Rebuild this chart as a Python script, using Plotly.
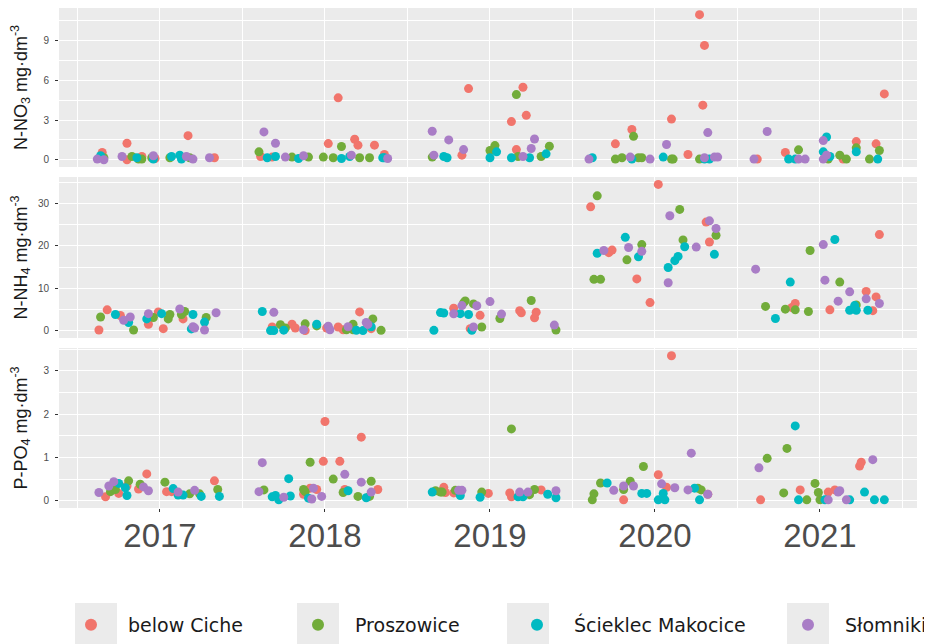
import plotly.graph_objects as go
from plotly.subplots import make_subplots

sites = ["below Ciche", "Proszowice", "Ścieklec Makocice", "Słomniki"]
site_colors = ["#F1756C", "#72AC3A", "#00BAC2", "#A97DC6"]
years = [2017, 2018, 2019, 2020, 2021]
year_labels = ["2017", "2018", "2019", "2020", "2021"]

# ---------------- N-NO3 ----------------
no3_ciche_x = [2016.65, 2016.80, 2016.80, 2016.89, 2016.97, 2017.17, 2017.33, 2017.61, 2017.68, 2018.02, 2018.08, 2018.18, 2018.20, 2018.30, 2018.36, 2018.83, 2018.87, 2019.13, 2019.16, 2019.20, 2019.22, 2019.76, 2019.86, 2020.10, 2020.20, 2020.27, 2020.30, 2020.29, 2020.62, 2020.79, 2021.14, 2021.22, 2021.34, 2021.39]
no3_ciche_y = [0.55, 1.25, 0.0, 0.25, 0.1, 1.82, 0.15, 0.25, 0.2, 1.22, 4.67, 1.55, 1.1, 1.1, 0.4, 0.35, 5.37, 2.88, 0.77, 5.47, 3.35, 1.2, 2.28, 3.07, 0.4, 10.95, 8.63, 4.12, 0.05, 0.55, 0.05, 1.37, 1.2, 4.97]
no3_prosz_x = [2016.66, 2016.83, 2016.87, 2016.89, 2016.95, 2017.06, 2017.18, 2017.60, 2017.80, 2017.90, 2017.99, 2018.05, 2018.10, 2018.21, 2018.27, 2018.65, 2019.00, 2019.03, 2019.16, 2019.17, 2019.31, 2019.36, 2019.76, 2019.80, 2019.87, 2019.90, 2019.92, 2020.10, 2020.11, 2020.27, 2020.87, 2021.05, 2021.12, 2021.16, 2021.22, 2021.30, 2021.36]
no3_prosz_y = [0.15, 0.25, 0.05, 0.05, 0.15, 0.15, 0.15, 0.6, 0.2, 0.2, 0.2, 0.15, 1.0, 0.15, 0.15, 0.2, 0.7, 1.07, 4.92, 0.25, 0.25, 1.02, 0.05, 0.15, 1.77, 0.15, 0.15, 0.05, 0.05, 0.05, 0.75, 0.05, 0.35, 0.05, 0.9, 0.05, 0.7]
no3_scie_x = [2016.64, 2016.86, 2016.96, 2017.07, 2017.12, 2017.13, 2017.65, 2017.70, 2017.84, 2018.10, 2018.15, 2018.35, 2018.36, 2018.72, 2018.74, 2019.00, 2019.04, 2019.13, 2019.24, 2019.34, 2019.62, 2019.86, 2020.05, 2020.30, 2020.33, 2020.81, 2020.85, 2021.02, 2021.04, 2021.06, 2021.22, 2021.35]
no3_scie_y = [0.3, 0.15, 0.05, 0.25, 0.35, 0.05, 0.15, 0.25, 0.1, 0.1, 0.25, 0.15, 0.15, 0.25, 0.15, 0.15, 0.6, 0.15, 0.15, 0.45, 0.15, 0.05, 0.2, 0.05, 0.05, 0.05, 0.05, 0.6, 1.72, 0.25, 0.6, 0.05]
no3_slom_x = [2016.62, 2016.66, 2016.77, 2016.96, 2017.16, 2017.20, 2017.30, 2017.63, 2017.70, 2017.76, 2017.87, 2018.16, 2018.38, 2018.65, 2018.66, 2018.75, 2018.84, 2019.20, 2019.25, 2019.27, 2019.60, 2019.85, 2019.97, 2020.07, 2020.30, 2020.32, 2020.36, 2020.38, 2020.60, 2020.68, 2020.87, 2020.91, 2021.02, 2021.02, 2021.04]
no3_slom_y = [0.05, 0.0, 0.25, 0.3, 0.25, 0.05, 0.15, 2.1, 1.25, 0.2, 0.3, 0.35, 0.1, 2.15, 0.35, 1.5, 0.77, 0.25, 0.85, 1.57, 0.05, 0.2, 0.05, 1.15, 0.15, 2.05, 0.2, 0.2, 0.05, 2.13, 0.05, 0.05, 1.45, 0.05, 0.35]

# ---------------- N-NH4 ----------------
nh4_ciche_x = [2016.63, 2016.68, 2016.76, 2016.93, 2016.99, 2017.02, 2017.14, 2017.68, 2017.80, 2017.82, 2017.88, 2018.01, 2018.08, 2018.11, 2018.21, 2018.28, 2018.78, 2018.88, 2018.94, 2019.18, 2019.19, 2019.27, 2019.28, 2019.61, 2019.72, 2019.74, 2019.89, 2019.97, 2020.02, 2020.31, 2020.33, 2020.83, 2020.85, 2021.06, 2021.28, 2021.32, 2021.34, 2021.36]
nh4_ciche_y = [0.15, 4.9, 3.55, 1.5, 4.4, 0.45, 2.75, 0.85, 1.5, 0.6, 0.0, 0.6, 0.85, 0.2, 4.4, 0.45, 5.3, 0.45, 3.6, 4.7, 4.2, 3.0, 4.35, 29.2, 18.4, 19.0, 12.2, 6.6, 34.5, 25.6, 20.9, 5.45, 6.4, 4.9, 9.25, 4.7, 7.95, 22.65]
nh4_prosz_x = [2016.64, 2016.84, 2016.96, 2017.05, 2017.06, 2017.13, 2017.15, 2017.28, 2017.73, 2017.76, 2017.88, 2017.95, 2018.13, 2018.17, 2018.17, 2018.29, 2018.34, 2018.84, 2018.85, 2018.90, 2018.95, 2019.06, 2019.25, 2019.40, 2019.63, 2019.65, 2019.67, 2019.83, 2019.92, 2020.15, 2020.17, 2020.37, 2020.67, 2020.79, 2020.85, 2020.93, 2020.94, 2021.12, 2021.22]
nh4_prosz_y = [3.2, 0.15, 3.1, 2.75, 3.8, 3.8, 4.5, 3.1, 1.4, 0.6, 1.6, 1.1, 0.2, 1.5, 0.2, 2.75, 0.05, 6.55, 7.0, 6.3, 0.85, 2.85, 7.1, 0.15, 12.1, 31.8, 12.1, 16.7, 20.3, 28.6, 21.4, 22.5, 5.7, 5.05, 4.9, 4.5, 18.9, 11.45, 6.05]
nh4_scie_x = [2016.73, 2016.81, 2016.92, 2017.01, 2017.19, 2017.20, 2017.27, 2017.62, 2017.67, 2017.69, 2017.75, 2017.95, 2018.19, 2018.23, 2018.28, 2018.66, 2018.70, 2018.72, 2018.82, 2018.87, 2018.89, 2019.65, 2019.82, 2019.90, 2020.08, 2020.12, 2020.14, 2020.18, 2020.36, 2020.73, 2020.82, 2021.09, 2021.18, 2021.21, 2021.22, 2021.29]
nh4_scie_y = [3.8, 1.9, 2.75, 4.0, 0.4, 3.8, 2.0, 4.5, 0.0, 0.0, 0.1, 1.5, 0.05, 0.0, 0.9, 0.05, 4.25, 4.15, 4.0, 3.8, 0.05, 18.25, 22.0, 17.4, 14.9, 16.5, 17.5, 19.8, 18.0, 2.85, 11.45, 21.5, 4.8, 5.9, 4.8, 4.8]
nh4_slom_x = [2016.78, 2016.82, 2016.93, 2017.12, 2017.20, 2017.21, 2017.27, 2017.34, 2017.69, 2017.87, 2018.02, 2018.03, 2018.14, 2018.25, 2018.26, 2018.78, 2018.83, 2018.90, 2018.92, 2019.00, 2019.07, 2019.39, 2019.69, 2019.84, 2019.92, 2020.08, 2020.09, 2020.25, 2020.33, 2020.37, 2020.61, 2021.02, 2021.03, 2021.11, 2021.18, 2021.28, 2021.36]
nh4_slom_y = [2.45, 3.2, 4.0, 5.1, 0.9, 0.6, 0.15, 4.2, 4.3, 0.2, 1.05, 0.2, 0.9, 1.9, 1.45, 3.95, 5.9, 0.85, 5.85, 6.85, 3.9, 1.3, 18.9, 19.6, 18.7, 11.3, 27.1, 19.7, 25.9, 24.1, 14.5, 20.3, 11.9, 6.95, 9.15, 7.5, 6.4]

# ---------------- P-PO4 ----------------
po4_ciche_x = [2016.67, 2016.75, 2016.80, 2016.87, 2016.92, 2017.04, 2017.07, 2017.33, 2017.87, 2017.91, 2017.95, 2017.99, 2018.00, 2018.09, 2018.12, 2018.22, 2018.32, 2018.72, 2018.73, 2018.78, 2018.99, 2019.12, 2019.13, 2019.31, 2019.81, 2020.02, 2020.07, 2020.10, 2020.32, 2020.64, 2020.88, 2021.05, 2021.09, 2021.24, 2021.25]
po4_ciche_y = [0.09, 0.17, 0.34, 0.27, 0.62, 0.21, 0.21, 0.46, 0.15, 0.29, 0.26, 0.91, 1.83, 0.91, 0.26, 1.47, 0.26, 0.31, 0.19, 0.18, 0.17, 0.18, 0.09, 0.25, 0.02, 0.60, 0.31, 3.35, 0.15, 0.02, 0.25, 0.20, 0.25, 0.80, 0.89]
po4_prosz_x = [2016.70, 2016.73, 2016.81, 2016.88, 2017.03, 2017.18, 2017.24, 2017.35, 2017.63, 2017.87, 2017.88, 2017.91, 2018.05, 2018.11, 2018.20, 2018.27, 2018.28, 2018.67, 2018.70, 2018.71, 2018.79, 2018.95, 2019.13, 2019.24, 2019.27, 2019.62, 2019.63, 2019.67, 2019.81, 2019.85, 2019.93, 2020.26, 2020.28, 2020.68, 2020.78, 2020.80, 2020.92, 2020.97, 2020.99, 2021.00]
po4_prosz_y = [0.21, 0.26, 0.46, 0.38, 0.43, 0.16, 0.16, 0.26, 0.25, 0.26, 0.21, 0.89, 0.50, 0.19, 0.10, 0.10, 0.45, 0.23, 0.20, 0.20, 0.24, 0.20, 1.66, 0.14, 0.26, 0.02, 0.16, 0.41, 0.26, 0.45, 0.79, 0.29, 0.25, 0.98, 0.18, 1.21, 0.02, 0.40, 0.19, 0.02]
po4_scie_x = [2016.75, 2016.79, 2016.80, 2017.08, 2017.11, 2017.14, 2017.25, 2017.36, 2017.68, 2017.70, 2017.72, 2017.78, 2017.79, 2017.90, 2018.14, 2018.25, 2018.65, 2018.82, 2018.94, 2019.17, 2019.20, 2019.35, 2019.40, 2019.71, 2019.92, 2019.95, 2020.02, 2020.05, 2020.06, 2020.24, 2020.27, 2020.85, 2020.87, 2021.03, 2021.18, 2021.27, 2021.33, 2021.39]
po4_scie_y = [0.40, 0.30, 0.12, 0.28, 0.13, 0.13, 0.10, 0.10, 0.09, 0.12, 0.02, 0.51, 0.11, 0.06, 0.23, 0.07, 0.20, 0.12, 0.08, 0.09, 0.09, 0.15, 0.07, 0.41, 0.17, 0.17, 0.02, 0.17, 0.02, 0.29, 0.02, 1.73, 0.02, 0.02, 0.02, 0.20, 0.02, 0.02]
po4_slom_x = [2016.63, 2016.69, 2016.72, 2016.90, 2016.93, 2017.11, 2017.21, 2017.60, 2017.62, 2017.75, 2017.92, 2017.93, 2017.98, 2018.12, 2018.22, 2018.28, 2018.81, 2018.83, 2019.18, 2019.23, 2019.40, 2019.75, 2019.81, 2019.87, 2020.04, 2020.12, 2020.20, 2020.22, 2020.32, 2020.63, 2021.05, 2021.11, 2021.12, 2021.16, 2021.32]
po4_slom_y = [0.19, 0.34, 0.44, 0.32, 0.23, 0.20, 0.24, 0.21, 0.88, 0.08, 0.04, 0.29, 0.10, 0.61, 0.43, 0.20, 0.24, 0.24, 0.20, 0.20, 0.23, 0.24, 0.34, 0.34, 0.39, 0.30, 0.25, 1.10, 0.15, 0.76, 0.02, 0.20, 0.23, 0.02, 0.95]

panels = [
    ("N-NO<sub>3</sub> mg·dm<sup>-3</sup>",
     [(no3_ciche_x, no3_ciche_y), (no3_prosz_x, no3_prosz_y), (no3_scie_x, no3_scie_y), (no3_slom_x, no3_slom_y)],
     [-0.545, 11.45], [0, 3, 6, 9], 1.5),
    ("N-NH<sub>4</sub> mg·dm<sup>-3</sup>",
     [(nh4_ciche_x, nh4_ciche_y), (nh4_prosz_x, nh4_prosz_y), (nh4_scie_x, nh4_scie_y), (nh4_slom_x, nh4_slom_y)],
     [-1.75, 36.25], [0, 10, 20, 30], 5),
    ("P-PO<sub>4</sub> mg·dm<sup>-3</sup>",
     [(po4_ciche_x, po4_ciche_y), (po4_prosz_x, po4_prosz_y), (po4_scie_x, po4_scie_y), (po4_slom_x, po4_slom_y)],
     [-0.168, 3.53], [0, 1, 2, 3], 0.5),
]

# Page body has an 8px margin, so the figure is sized to fit the window
OFF = 8
W, H = 932 - OFF, 644 - OFF
ML, MR, MT, MB = 51, 15, 0, 136
PW, PH = W - ML - MR, H - MT - MB


def px_x(xw):
    return (xw - OFF - ML) / PW


def px_y(yw):
    return (MT + PH - (yw - OFF)) / PH


legend_names = ["legend", "legend2", "legend3", "legend4"]
legend_text_px = [128, 355, 574, 846]
legend_key_px = [75, 297, 507, 787]

fig = make_subplots(rows=3, cols=1, shared_xaxes=True, vertical_spacing=0.02)

for r, (title, series, yr, ytv, minor_step) in enumerate(panels, start=1):
    for i, (xs, ys) in enumerate(series):
        fig.add_trace(go.Scatter(
            x=xs, y=ys, mode="markers", name=sites[i], legendgroup=sites[i],
            legend=legend_names[i], showlegend=(r == 1),
            marker=dict(color=site_colors[i], size=9, line=dict(width=0)),
        ), row=r, col=1)
    fig.update_yaxes(
        row=r, col=1, range=yr, tickvals=ytv, ticktext=[str(v) for v in ytv],
        showgrid=True, gridcolor="white", gridwidth=1.1, zeroline=False,
        ticks="outside", ticklen=3, tickcolor="#333333", tickwidth=1,
        ticklabelstandoff=4,
        tickfont=dict(family="Liberation Sans", size=10, color="#4D4D4D"),
        minor=dict(dtick=minor_step, tick0=0, showgrid=True, gridcolor="white", gridwidth=0.5, ticks=""),
        title=dict(text=title, font=dict(family="Liberation Sans", size=18, color="#1A1A1A"), standoff=14),
        showline=False, automargin=False,
    )
    fig.update_xaxes(
        row=r, col=1, range=[2016.388, 2021.588], tickvals=years, ticktext=year_labels,
        showgrid=True, gridcolor="white", gridwidth=1.1, zeroline=False,
        minor=dict(dtick=0.5, tick0=2016.5, showgrid=True, gridcolor="white", gridwidth=0.5, ticks=""),
        ticks="outside" if r == 3 else "", ticklen=3, tickcolor="#333333",
        showticklabels=(r == 3), ticklabelstandoff=-5,
        tickfont=dict(family="Liberation Sans", size=33, color="#4D4D4D"),
        showline=False, automargin=False,
    )

fig.update_yaxes(domain=[px_y(167), min(1.0, px_y(7))], row=1, col=1)
fig.update_yaxes(domain=[px_y(338), px_y(177)], row=2, col=1)
fig.update_yaxes(domain=[px_y(508), px_y(348)], row=3, col=1)

# grey legend key backgrounds (ggplot style)
for kx in legend_key_px:
    fig.add_shape(type="rect", xref="paper", yref="paper",
                  x0=px_x(kx), x1=px_x(kx + 42),
                  y0=px_y(650), y1=px_y(603),
                  fillcolor="#EBEBEB", line=dict(width=0), layer="below")

legend_common = dict(orientation="h", y=px_y(625), yanchor="middle",
                     font=dict(family="DejaVu Sans", size=19, color="#1A1A1A"),
                     itemsizing="constant", itemwidth=64, bgcolor="rgba(0,0,0,0)")
legend_layout = {}
for k, (name, tx) in enumerate(zip(legend_names, legend_text_px)):
    if k < 3:
        legend_layout[name] = dict(legend_common, x=px_x(tx - 74), xanchor="left")
    else:
        # last entry is anchored to the right edge so it is not clipped
        legend_layout[name] = dict(legend_common, x=px_x(932), xanchor="right")

fig.update_layout(
    width=W, height=H,
    margin=dict(l=ML, r=MR, t=MT, b=MB, autoexpand=False),
    paper_bgcolor="white", plot_bgcolor="#EBEBEB",
    showlegend=True,
    **legend_layout,
)

fig.write_html("out.html")
